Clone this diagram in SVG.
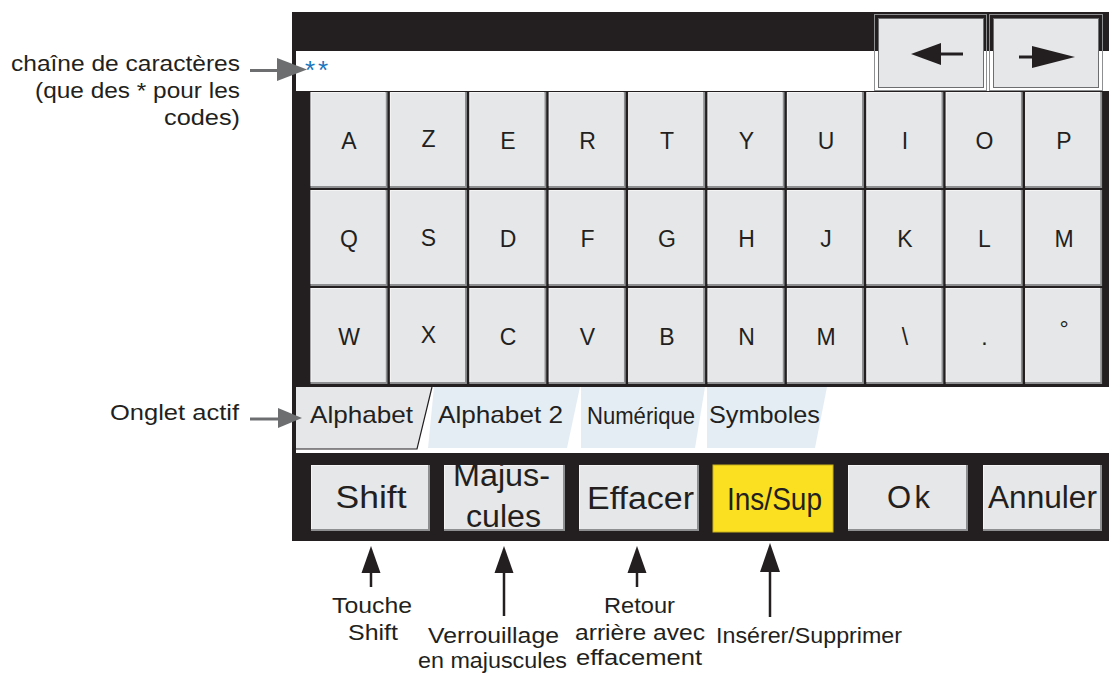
<svg xmlns="http://www.w3.org/2000/svg" width="1109" height="675" viewBox="0 0 1109 675">
<style>
text{font-family:"Liberation Sans",Arial,sans-serif;fill:#231f20}
.kb{fill:#8e8f91}
.kf{fill:#e6e7e9}
.kt{font-size:23px;text-anchor:middle}
.bt{font-size:31px;text-anchor:middle}
.tt{font-size:24px}
.lbl{font-size:22.5px}
.tab{fill:#e5edf4}
</style>
<defs>
<g id="key"><rect class="kb" x="0" y="0" width="77" height="96"/><rect x="0" y="0" width="75" height="94" fill="#f4f4f5"/><rect class="kf" x="1" y="1" width="74" height="93"/></g>
</defs>
<rect width="1109" height="675" fill="#fff"/>
<g id="frame">
<rect x="292" y="12" width="817" height="40" fill="#231f20"/>
<rect x="292" y="12" width="4" height="441" fill="#231f20"/>
<rect x="296" y="51" width="813" height="41" fill="#fff"/>
<rect x="292" y="91" width="817" height="296" fill="#231f20"/>
<rect x="296" y="387" width="813" height="66" fill="#fff"/>
<rect x="292" y="453" width="817" height="88" fill="#231f20"/>
</g>
<g id="input">
<text x="305" y="79" style="font-size:26px;fill:#1a75bc;letter-spacing:3px">**</text>
</g>
<g id="arrow-keys">
<rect x="874.5" y="14.5" width="112" height="76" fill="none" stroke="#8e8f91"/>
<rect x="878.5" y="18.5" width="105" height="69" class="kf" stroke="#6d6e70"/>
<line x1="935" y1="54" x2="963" y2="54" stroke="#231f20" stroke-width="3"/>
<polygon points="911,54 941,43 941,65" fill="#231f20"/>
<rect x="989.5" y="14.5" width="113" height="76" fill="none" stroke="#8e8f91"/>
<rect x="993.5" y="18.5" width="105" height="69" class="kf" stroke="#6d6e70"/>
<line x1="1019" y1="57" x2="1050" y2="57" stroke="#231f20" stroke-width="3"/>
<polygon points="1075,57 1032,46 1032,68" fill="#231f20"/>
</g>
<g id="keys">
<use href="#key" x="310.5" y="92"/><use href="#key" x="389.9" y="92"/><use href="#key" x="469.3" y="92"/><use href="#key" x="548.7" y="92"/><use href="#key" x="628.1" y="92"/><use href="#key" x="707.5" y="92"/><use href="#key" x="786.9" y="92"/><use href="#key" x="866.3" y="92"/><use href="#key" x="945.7" y="92"/><use href="#key" x="1025.1" y="92"/>
<use href="#key" x="310.5" y="190"/><use href="#key" x="389.9" y="190"/><use href="#key" x="469.3" y="190"/><use href="#key" x="548.7" y="190"/><use href="#key" x="628.1" y="190"/><use href="#key" x="707.5" y="190"/><use href="#key" x="786.9" y="190"/><use href="#key" x="866.3" y="190"/><use href="#key" x="945.7" y="190"/><use href="#key" x="1025.1" y="190"/>
<use href="#key" x="310.5" y="288"/><use href="#key" x="389.9" y="288"/><use href="#key" x="469.3" y="288"/><use href="#key" x="548.7" y="288"/><use href="#key" x="628.1" y="288"/><use href="#key" x="707.5" y="288"/><use href="#key" x="786.9" y="288"/><use href="#key" x="866.3" y="288"/><use href="#key" x="945.7" y="288"/><use href="#key" x="1025.1" y="288"/>
<g class="kt">
<text x="349" y="149" class="kt">A</text><text x="428.5" y="147" class="kt">Z</text><text x="508" y="149" class="kt">E</text><text x="587.5" y="149" class="kt">R</text><text x="667" y="149" class="kt">T</text><text x="746.5" y="149" class="kt">Y</text><text x="826" y="149" class="kt">U</text><text x="905" y="149" class="kt">I</text><text x="984.5" y="149" class="kt">O</text><text x="1064" y="149" class="kt">P</text>
<text x="349" y="247" class="kt">Q</text><text x="428.5" y="246" class="kt">S</text><text x="508" y="247" class="kt">D</text><text x="587.5" y="247" class="kt">F</text><text x="667" y="247" class="kt">G</text><text x="746.5" y="247" class="kt">H</text><text x="826" y="247" class="kt">J</text><text x="905" y="247" class="kt">K</text><text x="984.5" y="247" class="kt">L</text><text x="1064" y="247" class="kt">M</text>
<text x="349" y="345" class="kt">W</text><text x="428.5" y="343" class="kt">X</text><text x="508" y="345" class="kt">C</text><text x="587.5" y="345" class="kt">V</text><text x="667" y="345" class="kt">B</text><text x="746.5" y="345" class="kt">N</text><text x="826" y="345" class="kt">M</text><text x="905" y="345" class="kt">\</text><text x="984.5" y="345" class="kt">.</text><text x="1064" y="337" class="kt">°</text>
</g>
</g>
<g id="tabs">
<polygon points="296,387 432,387 417,449 296,449" fill="#e6e7e9"/>
<polyline points="296,449 417,449 432,387" fill="none" stroke="#231f20" stroke-width="1.2"/>
<polygon class="tab" points="434,387 580,387 567,448 428,448"/>
<polygon class="tab" points="581,387 705,387 695,448 581,448"/>
<polygon class="tab" points="707,387 827,387 815,448 707,448"/>
<text class="tt" x="310" y="423" textLength="103" lengthAdjust="spacingAndGlyphs">Alphabet</text>
<text class="tt" x="438" y="423" textLength="125" lengthAdjust="spacingAndGlyphs">Alphabet 2</text>
<text class="tt" x="587" y="424" textLength="108" lengthAdjust="spacingAndGlyphs">Numérique</text>
<text class="tt" x="709" y="423" textLength="111" lengthAdjust="spacingAndGlyphs">Symboles</text>
</g>
<g id="buttons">
<rect x="311" y="465" width="119" height="66" fill="#8e8f91"/><rect x="311" y="465" width="117" height="64" fill="#f4f4f5"/><rect x="312" y="466" width="116" height="63" class="kf"/>
<rect x="444" y="465" width="121" height="66" fill="#8e8f91"/><rect x="444" y="465" width="119" height="64" fill="#f4f4f5"/><rect x="445" y="466" width="118" height="63" class="kf"/>
<rect x="579" y="465" width="120" height="66" fill="#8e8f91"/><rect x="579" y="465" width="118" height="64" fill="#f4f4f5"/><rect x="580" y="466" width="117" height="63" class="kf"/>
<rect x="713" y="465" width="120" height="67" fill="#fbe022" stroke="#c9b21a" stroke-width="1"/>
<rect x="848" y="465" width="120" height="66" fill="#8e8f91"/><rect x="848" y="465" width="118" height="64" fill="#f4f4f5"/><rect x="849" y="466" width="117" height="63" class="kf"/>
<rect x="983" y="465" width="119" height="66" fill="#8e8f91"/><rect x="983" y="465" width="117" height="64" fill="#f4f4f5"/><rect x="984" y="466" width="116" height="63" class="kf"/>
<text class="bt" x="371" y="508" textLength="71" lengthAdjust="spacingAndGlyphs">Shift</text>
<text class="bt" x="501.5" y="486" textLength="97" lengthAdjust="spacingAndGlyphs">Majus-</text>
<text class="bt" x="503.5" y="527" textLength="75" lengthAdjust="spacingAndGlyphs">cules</text>
<text class="bt" x="640.5" y="509" textLength="107" lengthAdjust="spacingAndGlyphs">Effacer</text>
<text class="bt" x="774.5" y="510" textLength="95" lengthAdjust="spacingAndGlyphs">Ins/Sup</text>
<text class="bt" x="908.5" y="508" textLength="43" lengthAdjust="spacing">Ok</text>
<text class="bt" x="1042.5" y="508" textLength="109" lengthAdjust="spacingAndGlyphs">Annuler</text>
</g>
<g id="connectors">
<line x1="250" y1="70.5" x2="282" y2="70.5" stroke="#6d6e70" stroke-width="3"/>
<polygon points="307,69.5 277,58 277,81" fill="#6d6e70"/>
<line x1="250" y1="419" x2="282" y2="419" stroke="#6d6e70" stroke-width="3"/>
<polygon points="302,418 278,408 278,428" fill="#6d6e70"/>
<g fill="#231f20" stroke="#231f20">
<line x1="371" y1="570" x2="371" y2="587" stroke-width="2.5"/><polygon points="371,546 361.5,573 380.5,573" stroke="none"/>
<line x1="504" y1="570" x2="504" y2="616" stroke-width="2.5"/><polygon points="504,546 494.5,573 513.5,573" stroke="none"/>
<line x1="637" y1="570" x2="637" y2="587" stroke-width="2.5"/><polygon points="637,546 627.5,573 646.5,573" stroke="none"/>
<line x1="770" y1="569" x2="770" y2="617" stroke-width="2.5"/><polygon points="770,543 760,572 780,572" stroke="none"/>
</g>
</g>
<g id="labels">
<text class="lbl" x="240" y="71" text-anchor="end" textLength="229" lengthAdjust="spacingAndGlyphs">chaîne de caractères</text>
<text class="lbl" x="240" y="98" text-anchor="end" textLength="205" lengthAdjust="spacingAndGlyphs">(que des * pour les</text>
<text class="lbl" x="240" y="125" text-anchor="end" textLength="76" lengthAdjust="spacingAndGlyphs">codes)</text>
<text class="lbl" x="239" y="420" text-anchor="end" textLength="129" lengthAdjust="spacingAndGlyphs">Onglet actif</text>
<text class="lbl" x="372" y="613" text-anchor="middle" textLength="80" lengthAdjust="spacingAndGlyphs">Touche</text>
<text class="lbl" x="373" y="640" text-anchor="middle" textLength="50" lengthAdjust="spacingAndGlyphs">Shift</text>
<text class="lbl" x="493.5" y="643" text-anchor="middle" textLength="131" lengthAdjust="spacingAndGlyphs">Verrouillage</text>
<text class="lbl" x="492.5" y="668" text-anchor="middle" textLength="149" lengthAdjust="spacingAndGlyphs">en majuscules</text>
<text class="lbl" x="639.5" y="613" text-anchor="middle" textLength="71" lengthAdjust="spacingAndGlyphs">Retour</text>
<text class="lbl" x="640" y="640" text-anchor="middle" textLength="130" lengthAdjust="spacingAndGlyphs">arrière avec</text>
<text class="lbl" x="639" y="665" text-anchor="middle" textLength="126" lengthAdjust="spacingAndGlyphs">effacement</text>
<text class="lbl" x="716" y="643" textLength="186" lengthAdjust="spacingAndGlyphs">Insérer/Supprimer</text>
</g>
</svg>
